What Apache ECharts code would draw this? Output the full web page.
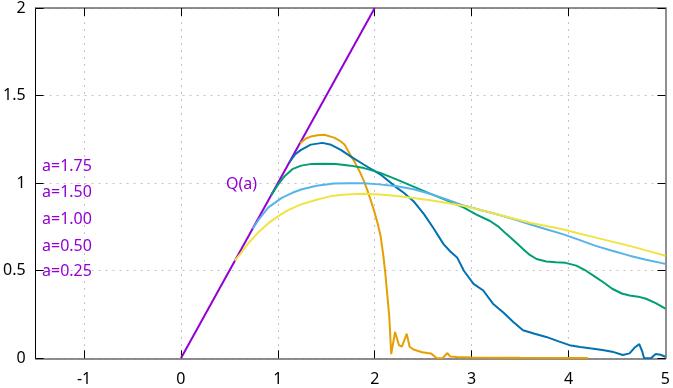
<!DOCTYPE html>
<html>
<head>
<meta charset="utf-8">
<script src="https://cdn.jsdelivr.net/npm/echarts@6/dist/echarts.min.js"></script>
<style>
html,body{margin:0;padding:0;background:#fff;}
#chart{width:673px;height:388px;}
</style>
</head>
<body>
<div id="chart"></div>
<script>
// ---- data ----
var xTicks = [-1, 0, 1, 2, 3, 4, 5];
var yTicks = [0, 0.5, 1, 1.5, 2];
var legendTexts = ['a=1.75', 'a=1.50', 'a=1.00', 'a=0.50', 'a=0.25'];
var qLabel = 'Q(a)';

var qX = [0, 2];
var qY = [0, 2];

var a175X = [1.23, 1.29, 1.34, 1.41, 1.48, 1.58, 1.65, 1.69, 1.75, 1.79, 1.85, 1.89, 1.93, 1.96, 2.0, 2.03, 2.06, 2.09, 2.11, 2.13, 2.15, 2.17, 2.21, 2.25, 2.28, 2.33, 2.36, 2.40, 2.44, 2.49, 2.54, 2.58, 2.61, 2.64, 2.70, 2.75, 2.78, 2.85, 3.0, 3.5, 4.2];
var a175Y = [1.228, 1.255, 1.266, 1.274, 1.276, 1.26, 1.238, 1.219, 1.16, 1.124, 1.06, 1.01, 0.95, 0.9, 0.83, 0.77, 0.70, 0.58, 0.48, 0.36, 0.24, 0.024, 0.15, 0.075, 0.066, 0.14, 0.066, 0.05, 0.043, 0.035, 0.03, 0.028, 0.015, 0.0, 0.0, 0.03, 0.01, 0.008, 0.005, 0.003, 0.002];

var a150X = [1.12, 1.18, 1.24, 1.34, 1.46, 1.55, 1.65, 1.75, 1.89, 2.06, 2.23, 2.30, 2.40, 2.51, 2.61, 2.71, 2.78, 2.85, 2.92, 3.02, 3.12, 3.22, 3.33, 3.43, 3.53, 3.65, 3.77, 3.89, 4.01, 4.12, 4.22, 4.35, 4.45, 4.56, 4.63, 4.68, 4.73, 4.76, 4.78, 4.85, 4.90, 4.95, 5.0];
var a150Y = [1.12, 1.165, 1.19, 1.22, 1.23, 1.219, 1.19, 1.153, 1.105, 1.049, 0.973, 0.945, 0.897, 0.822, 0.74, 0.652, 0.61, 0.576, 0.50, 0.425, 0.387, 0.312, 0.26, 0.207, 0.16, 0.14, 0.122, 0.098, 0.075, 0.065, 0.057, 0.048, 0.038, 0.019, 0.028, 0.06, 0.081, 0.04, 0.0, 0.0, 0.024, 0.02, 0.009];

var a100X = [0.93, 1.0, 1.07, 1.15, 1.24, 1.35, 1.48, 1.6, 1.75, 1.89, 2.05, 2.23, 2.4, 2.57, 2.75, 2.92, 3.05, 3.19, 3.28, 3.36, 3.45, 3.53, 3.6, 3.67, 3.77, 3.87, 3.97, 4.08, 4.18, 4.28, 4.37, 4.45, 4.55, 4.63, 4.72, 4.80, 4.9, 5.0];
var a100Y = [0.93, 0.99, 1.04, 1.08, 1.10, 1.11, 1.111, 1.11, 1.10, 1.086, 1.06, 1.02, 0.98, 0.94, 0.90, 0.86, 0.82, 0.784, 0.75, 0.709, 0.665, 0.624, 0.59, 0.567, 0.553, 0.548, 0.545, 0.529, 0.50, 0.463, 0.43, 0.397, 0.37, 0.359, 0.352, 0.340, 0.315, 0.283];

var a050X = [0.74, 0.8, 0.9, 1.04, 1.15, 1.24, 1.4, 1.58, 1.75, 1.89, 2.05, 2.23, 2.4, 2.57, 2.75, 2.92, 3.1, 3.26, 3.43, 3.6, 3.77, 3.94, 4.11, 4.28, 4.45, 4.63, 4.8, 5.0];
var a050Y = [0.74, 0.79, 0.86, 0.916, 0.945, 0.964, 0.985, 0.998, 1.0, 1.0, 0.993, 0.982, 0.965, 0.94, 0.905, 0.872, 0.845, 0.822, 0.795, 0.765, 0.737, 0.709, 0.676, 0.642, 0.614, 0.586, 0.563, 0.539];

var a025X = [0.557, 0.62, 0.7, 0.8, 0.9, 1.0, 1.1, 1.24, 1.4, 1.55, 1.7, 1.89, 2.05, 2.23, 2.4, 2.57, 2.75, 2.92, 3.1, 3.26, 3.43, 3.6, 3.77, 3.94, 4.11, 4.28, 4.45, 4.63, 4.8, 5.0];
var a025Y = [0.557, 0.6, 0.66, 0.72, 0.77, 0.81, 0.845, 0.879, 0.905, 0.926, 0.935, 0.939, 0.935, 0.926, 0.915, 0.902, 0.887, 0.869, 0.846, 0.822, 0.798, 0.774, 0.755, 0.737, 0.713, 0.689, 0.666, 0.642, 0.616, 0.586];

// ---- build ----
function zip(xs, ys) { return xs.map(function (x, i) { return [x, ys[i]]; }); }

var PURPLE = '#9400d3';
var FONT = 'Noto Sans';

var chart = echarts.init(document.getElementById('chart'), null, {renderer: 'canvas'});

function lineSeries(name, xs, ys, color, z) {
  return {
    name: name, type: 'line', data: zip(xs, ys), showSymbol: false, symbol: 'none',
    lineStyle: {color: color, width: 2}, z: z, animation: false, clip: true
  };
}

var gridLine = {show: true, lineStyle: {color: '#c4c4c4', width: 1, type: [2, 5]}};

var option = {
  backgroundColor: '#fff',
  animation: false,
  grid: {left: 32.5, right: 6.5, top: 5.5, bottom: 29.7, containLabel: false},
  xAxis: [
    {
      type: 'value', min: -1.5, max: 5, position: 'bottom',
      axisLine: {show: true, onZero: false, lineStyle: {color: '#6a6a6a', width: 1.5}},
      axisTick: {show: true, inside: true, length: 8, customValues: xTicks.slice(0, 6), lineStyle: {color: '#000', width: 1}},
      axisLabel: {show: true, customValues: xTicks, margin: 13, color: '#000', fontSize: 16, fontFamily: FONT,
        formatter: function (v) { return String(v); }},
      splitLine: {show: false}
    },
    {
      type: 'value', min: -1.5, max: 5, position: 'top',
      axisLine: {show: true, onZero: false, lineStyle: {color: '#6a6a6a', width: 1.5}},
      axisTick: {show: true, inside: true, length: 8, customValues: xTicks.slice(0, 6), lineStyle: {color: '#000', width: 1}},
      axisLabel: {show: false},
      splitLine: {show: false}
    },
    {
      type: 'value', min: -1.5, max: 5, position: 'bottom', show: true,
      axisLine: {show: false},
      axisTick: {show: false, customValues: xTicks.slice(0, 6)},
      axisLabel: {show: false, customValues: xTicks.slice(0, 6)},
      splitLine: gridLine
    }
  ],
  yAxis: [
    {
      type: 'value', min: 0, max: 2, interval: 0.5, position: 'left',
      axisLine: {show: true, onZero: false, lineStyle: {color: '#000', width: 1}},
      axisTick: {show: true, inside: true, length: 8, lineStyle: {color: '#000', width: 1}},
      axisLabel: {show: true, margin: 10, color: '#000', fontSize: 16, fontFamily: FONT,
        formatter: function (v) { return String(v); }},
      splitLine: gridLine
    },
    {
      type: 'value', min: 0, max: 2, interval: 0.5, position: 'right',
      axisLine: {show: true, onZero: false, lineStyle: {color: '#6a6a6a', width: 1.5}},
      axisTick: {show: true, inside: true, length: 8, lineStyle: {color: '#000', width: 1}},
      axisLabel: {show: false},
      splitLine: {show: false}
    }
  ],
  series: [
    lineSeries('Q(a)', qX, qY, PURPLE, 2),
    lineSeries('a=1.75', a175X, a175Y, '#e69f00', 3),
    lineSeries('a=1.50', a150X, a150Y, '#0072b2', 4),
    lineSeries('a=1.00', a100X, a100Y, '#009e73', 5),
    lineSeries('a=0.50', a050X, a050Y, '#56b4e9', 6),
    lineSeries('a=0.25', a025X, a025Y, '#f0e442', 7)
  ],
  graphic: []
};

var labelCenters = [165.6, 191.7, 218.3, 245, 270];
legendTexts.forEach(function (t, i) {
  option.graphic.push({
    type: 'text', left: 42, top: labelCenters[i] - 7, z: 10,
    style: {text: t, fill: PURPLE, fontSize: 16, fontFamily: FONT}
  });
});
option.graphic.push({
  type: 'text', left: 226, top: 176, z: 10,
  style: {text: qLabel, fill: PURPLE, fontSize: 16, fontFamily: FONT}
});

chart.setOption(option);
</script>
</body>
</html>
